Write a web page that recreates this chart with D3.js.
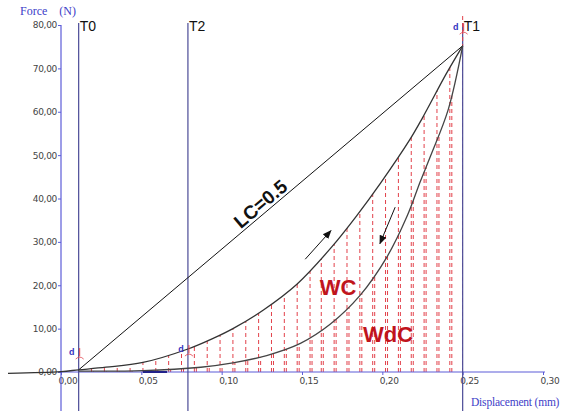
<!DOCTYPE html>
<html lang="en">
<head>
<meta charset="UTF-8">
<title>Force - Displacement</title>
<style>
  body { margin: 0; background: #fff; }
  svg { display: block; }
</style>
<script src="https://cdn.jsdelivr.net/npm/d3@7"></script>
</head>
<body>
<script>
    // values (displacement in mm, force in N)
    const xTicks = [0, 0.05, 0.10, 0.15, 0.20, 0.25, 0.30];
    const yTicks = [0, 10, 20, 30, 40, 50, 60, 70, 80];

    const loadX = [-0.033, 0, 0.011, 0.028, 0.051, 0.079, 0.095, 0.107, 0.126, 0.147, 0.168, 0.184, 0.199, 0.217, 0.225, 0.240, 0.250];
    const loadF = [-0.3, 0.1, 0.5, 1.1, 2.2, 5.3, 7.8, 10.0, 14.3, 20.3, 28.6, 36.0, 43.6, 53.5, 58.6, 68.9, 75.2];

    const unloadX = [0.250, 0.241, 0.230, 0.2235, 0.2155, 0.203, 0.186, 0.1675, 0.149, 0.128, 0.107, 0.087, 0.051, 0.011];
    const unloadF = [75.2, 60.5, 49.8, 43.8, 36.0, 26.6, 17.6, 11.0, 6.6, 3.8, 2.1, 1.1, 0.3, 0.2];

    // straight line LC
    const lcX = [0.011, 0.250];
    const lcF = [0.5, 75.2];

    // vertical markers
    const markers = [
        { name: "T0", x: 0.011 },
        { name: "T2", x: 0.079 },
        { name: "T1", x: 0.250 }
    ];

    // positions of the red hatch lines
    const hatchX = [0.019, 0.027, 0.035, 0.043, 0.051, 0.059, 0.067, 0.075, 0.083, 0.091,
                    0.099, 0.107, 0.115, 0.123, 0.131, 0.139, 0.147, 0.155, 0.162, 0.170,
                    0.178, 0.186, 0.194, 0.202, 0.210, 0.218, 0.226, 0.234, 0.242, 0.250];

    // small "d" marks
    const dMarks = [
        { x: 0.011, f: 3.9 },
        { x: 0.079, f: 4.6 },
        { x: 0.250, f: 78.8 }
    ];

    const width = 564, height = 411;
    const axisColor = "#5c5cd8";
    const tColor = "#4a4a96";
    const hatchColor = "#e2404a";

    const x = d3.scaleLinear().domain([0, 0.30]).range([61, 543]);
    const y = d3.scaleLinear().domain([0, 80]).range([372, 25]);

    const svg = d3.select("body").append("svg")
        .attr("width", width)
        .attr("height", height)
        .style("font-family", "'Liberation Sans', Arial, sans-serif");

    const loadData = loadX.map((v, i) => [v, loadF[i]]);
    const unloadData = unloadX.map((v, i) => [v, unloadF[i]]).sort((a, b) => a[0] - b[0]);

    const curve = d3.curveCatmullRom.alpha(0.5);
    const line = d3.line()
        .x(d => x(d[0]))
        .y(d => y(d[1]))
        .curve(curve);

    const area = d3.area()
        .x(d => x(d[0]))
        .y0(y(0))
        .y1(d => y(d[1]))
        .curve(curve);

    // clip regions below each curve for the hatching
    const defs = svg.append("defs");
    defs.append("clipPath").attr("id", "clipLoad")
        .append("path").attr("d", area(loadData));
    defs.append("clipPath").attr("id", "clipUnload")
        .append("path").attr("d", area(unloadData));

    svg.append("g").attr("clip-path", "url(#clipLoad)")
        .selectAll("line").data(hatchX).join("line")
        .attr("x1", d => x(d)).attr("x2", d => x(d))
        .attr("y1", y(0)).attr("y2", y(80))
        .attr("stroke", hatchColor)
        .attr("stroke-width", 1)
        .attr("stroke-dasharray", "4,3");

    svg.append("g").attr("clip-path", "url(#clipUnload)")
        .append("g").attr("transform", "translate(2,0)")
        .selectAll("line").data(hatchX.slice(0, -1)).join("line")
        .attr("x1", d => x(d)).attr("x2", d => x(d))
        .attr("y1", y(0)).attr("y2", y(80))
        .attr("stroke", hatchColor)
        .attr("stroke-width", 1)
        .attr("stroke-dasharray", "4,3");

    // axes
    const fmt = d => d3.format(".2f")(d).replace(".", ",");
    const xAxis = d3.axisBottom(x)
        .tickValues(xTicks)
        .tickSize(3)
        .tickFormat(fmt);
    const gx = svg.append("g")
        .attr("transform", `translate(0,${y(0)})`)
        .call(xAxis);
    gx.select(".domain").remove();
    gx.selectAll(".tick line").attr("stroke", axisColor);
    gx.selectAll(".tick text")
        .attr("text-anchor", "start")
        .attr("dx", -3)
        .attr("y", 6)
        .attr("fill", "#444")
        .attr("font-size", 9)
        .attr("font-family", "'DejaVu Sans', sans-serif")
        .style("letter-spacing", "-0.3px");

    const yAxis = d3.axisLeft(y)
        .tickValues(yTicks)
        .tickSize(3)
        .tickFormat(fmt);
    const gy = svg.append("g")
        .attr("transform", `translate(${x(0)},0)`)
        .call(yAxis);
    gy.select(".domain").remove();
    gy.selectAll(".tick line").attr("stroke", axisColor);
    gy.selectAll(".tick text")
        .attr("x", -4)
        .attr("fill", "#444")
        .attr("font-size", 9)
        .attr("font-family", "'DejaVu Sans', sans-serif")
        .style("letter-spacing", "-0.3px");

    svg.append("line")
        .attr("x1", x(0)).attr("x2", x(0.30) + 2)
        .attr("y1", y(0)).attr("y2", y(0))
        .attr("stroke", axisColor).attr("stroke-width", 1.2);
    svg.append("line")
        .attr("x1", x(0)).attr("x2", x(0))
        .attr("y1", y(80)).attr("y2", height)
        .attr("stroke", axisColor).attr("stroke-width", 1.2);
    // short dark segment on the x axis
    svg.append("line")
        .attr("x1", x(0.051)).attr("x2", x(0.066))
        .attr("y1", y(0)).attr("y2", y(0))
        .attr("stroke", "#22228a").attr("stroke-width", 2);

    // vertical T lines
    svg.selectAll(".tline").data(markers).join("line")
        .attr("class", "tline")
        .attr("x1", d => x(d.x)).attr("x2", d => x(d.x))
        .attr("y1", y(80) - 2).attr("y2", height)
        .attr("stroke", tColor).attr("stroke-width", 1.2);
    svg.selectAll(".tlabel").data(markers).join("text")
        .attr("class", "tlabel")
        .attr("x", d => x(d.x) + 1)
        .attr("y", 31)
        .attr("font-size", 14)
        .attr("fill", "#111")
        .text(d => d.name);

    // red line over T1 top
    svg.append("line")
        .attr("x1", x(0.25)).attr("x2", x(0.25))
        .attr("y1", 16).attr("y2", y(75.2))
        .attr("stroke", hatchColor).attr("stroke-width", 1)
        .attr("stroke-dasharray", "4,3");

    // LC straight line
    svg.append("path")
        .attr("d", d3.line().x((d, i) => x(lcX[i])).y(d => y(d))(lcF))
        .attr("fill", "none")
        .attr("stroke", "#111")
        .attr("stroke-width", 1);

    // curves
    svg.append("path")
        .attr("d", line(loadData))
        .attr("fill", "none")
        .attr("stroke", "#333")
        .attr("stroke-width", 1.3);
    svg.append("path")
        .attr("d", line(unloadData))
        .attr("fill", "none")
        .attr("stroke", "#444")
        .attr("stroke-width", 1.3);

    // d marks
    const dm = svg.selectAll(".dmark").data(dMarks).join("g")
        .attr("class", "dmark")
        .attr("transform", d => `translate(${x(d.x)},${y(d.f)})`);
    dm.append("text")
        .attr("x", -7).attr("y", 0)
        .attr("font-size", 9)
        .attr("font-weight", "bold")
        .attr("fill", "#3434c0")
        .attr("text-anchor", "middle")
        .text("d");
    dm.append("line")
        .attr("x1", 1).attr("x2", 1)
        .attr("y1", -7).attr("y2", 1)
        .attr("stroke", hatchColor).attr("stroke-width", 1);
    dm.append("path")
        .attr("d", "M-3,4 Q1,0 5,4")
        .attr("fill", "none")
        .attr("stroke", hatchColor).attr("stroke-width", 0.8);

    // arrows
    defs.append("marker")
        .attr("id", "arrow")
        .attr("viewBox", "0 0 10 10")
        .attr("refX", 9).attr("refY", 5)
        .attr("markerWidth", 9).attr("markerHeight", 9)
        .attr("markerUnits", "userSpaceOnUse")
        .attr("orient", "auto")
        .append("path").attr("d", "M0,1 L10,5 L0,9 Z").attr("fill", "#111");

    const arrows = [
        [[0.152, 26.0], [0.168, 32.6]],
        [[0.208, 38.0], [0.1985, 29.6]]
    ];
    svg.selectAll(".arrow").data(arrows).join("line")
        .attr("class", "arrow")
        .attr("x1", d => x(d[0][0])).attr("y1", d => y(d[0][1]))
        .attr("x2", d => x(d[1][0])).attr("y2", d => y(d[1][1]))
        .attr("stroke", "#111").attr("stroke-width", 1)
        .attr("marker-end", "url(#arrow)");

    // LC label sitting just above the straight line
    const ang = Math.atan2(y(lcF[1]) - y(lcF[0]), x(lcX[1]) - x(lcX[0])) * 180 / Math.PI;
    const lx = 0.128;
    const lf = lcF[0] + (lx - lcX[0]) / (lcX[1] - lcX[0]) * (lcF[1] - lcF[0]);
    svg.append("text")
        .attr("transform", `translate(${x(lx)},${y(lf)}) rotate(${ang})`)
        .attr("text-anchor", "middle")
        .attr("y", -3)
        .attr("font-size", 19)
        .attr("font-weight", "bold")
        .attr("fill", "#111")
        .text("LC=0.5");

    svg.append("text")
        .attr("x", x(0.161)).attr("y", y(17.8))
        .attr("font-size", 22).attr("font-weight", "bold")
        .attr("fill", "#c0141c")
        .text("WC");
    svg.append("text")
        .attr("x", x(0.188)).attr("y", y(6.9))
        .attr("font-size", 22).attr("font-weight", "bold")
        .attr("fill", "#c0141c")
        .text("WdC");

    // axis titles
    svg.append("text")
        .attr("x", 20).attr("y", 15)
        .attr("font-size", 12)
        .attr("font-family", "'Liberation Serif', serif")
        .attr("fill", "#4040c8")
        .attr("xml:space", "preserve")
        .text("Force    (N)");
    svg.append("text")
        .attr("x", 471).attr("y", 406)
        .attr("font-size", 11.5)
        .attr("font-family", "'Liberation Serif', serif")
        .attr("fill", "#4040c8")
        .style("letter-spacing", "-0.2px")
        .text("Displacement (mm)");
</script>
</body>
</html>
